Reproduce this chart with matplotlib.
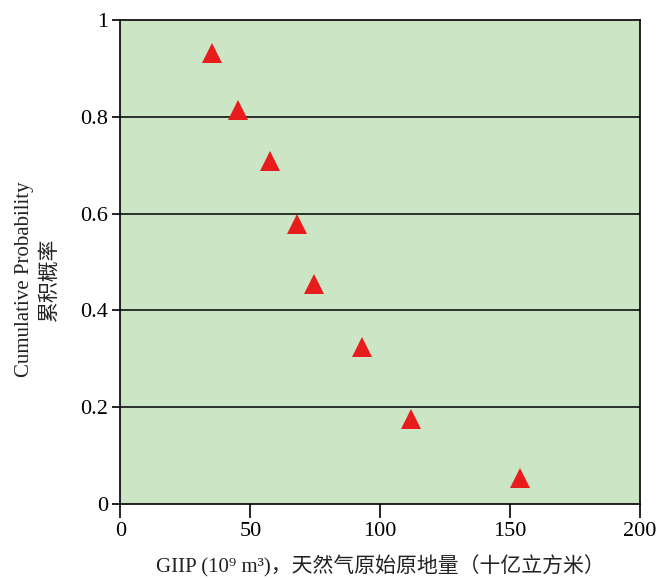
import matplotlib
matplotlib.use('Agg')
import matplotlib.pyplot as plt

# GIIP (10^9 m3) vs cumulative probability
giip = [35.1, 45.1, 57.6, 67.8, 74.6, 93.1, 111.8, 153.8]
cum_prob = [0.931, 0.813, 0.709, 0.579, 0.455, 0.324, 0.175, 0.053]
x_ticks = [0, 50, 100, 150, 200]
y_ticks = [0, 0.2, 0.4, 0.6, 0.8, 1]
y_tick_labels = ['0', '0.2', '0.4', '0.6', '0.8', '1']

plt.rcParams['font.family'] = ['Liberation Serif', 'Noto Sans CJK SC']

fig = plt.figure(figsize=(6.57, 5.79), dpi=100)
ax = fig.add_axes([0.1834, 0.1295, 0.7906, 0.836])
ax.set_facecolor('#cce5c5')

for y in y_ticks[1:-1]:
    ax.axhline(y, color='black', lw=1.1, zorder=1)

ax.plot(giip, cum_prob, linestyle='none', marker='^', markersize=14,
        color='#e81c1c', markeredgewidth=0, zorder=3)

ax.set_xlim(0, 200)
ax.set_ylim(0, 1)
ax.set_xticks(x_ticks)
ax.set_yticks(y_ticks)
ax.set_yticklabels(y_tick_labels)
ax.tick_params(axis='x', direction='out', length=10, width=1.2, labelsize=16, pad=3)
ax.tick_params(axis='y', direction='out', length=6, width=1.2, labelsize=16, pad=3)
for s in ax.spines.values():
    s.set_linewidth(1.2)

ax.set_xlabel('GIIP (10⁹ m³)，天然气原始原地量（十亿立方米）', fontsize=15, labelpad=10, color='#222222')
ax.set_ylabel('Cumulative Probability\n累积概率', fontsize=15, linespacing=1.45, color='#222222')
ax.yaxis.set_label_coords(-0.116, 0.465)

fig.savefig('out.png', dpi=100)
